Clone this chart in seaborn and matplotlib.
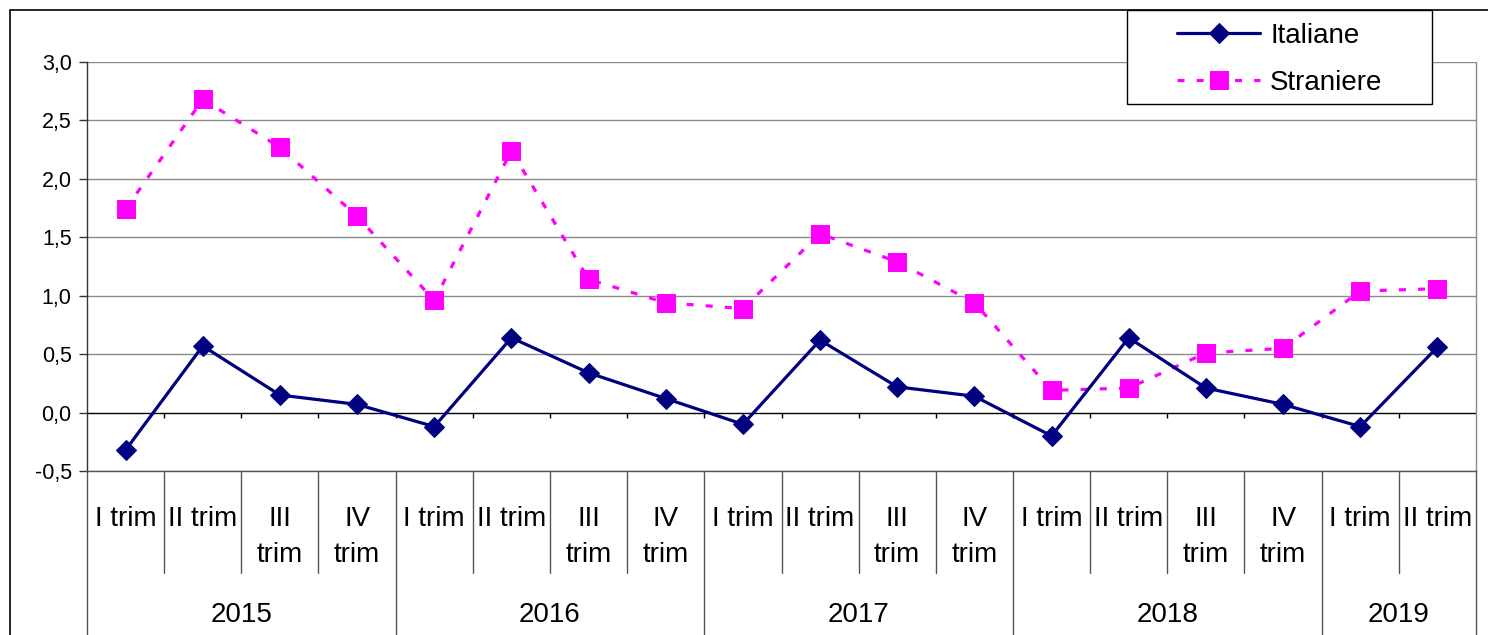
import numpy as np
import pandas as pd
import matplotlib
matplotlib.use("Agg")
import matplotlib.pyplot as plt
import matplotlib.transforms as mtransforms
from matplotlib.patches import Rectangle
import seaborn as sns

# =======================================
# Data
# =======================================
YEARS = ["2015", "2016", "2017", "2018", "2019"]
QUARTERS_PER_YEAR = [4, 4, 4, 4, 2]
QUARTER_LABELS = ["I trim", "II trim", "III\ntrim", "IV\ntrim"]

ITALIANE = [-0.32, 0.57, 0.15, 0.07,
            -0.12, 0.64, 0.34, 0.12,
            -0.10, 0.62, 0.22, 0.14,
            -0.20, 0.64, 0.21, 0.07,
            -0.12, 0.56]
STRANIERE = [1.74, 2.68, 2.27, 1.68,
             0.96, 2.24, 1.14, 0.94,
             0.89, 1.53, 1.29, 0.94,
             0.19, 0.21, 0.51, 0.55,
             1.04, 1.06]

Y_TICKS = [-0.5, 0.0, 0.5, 1.0, 1.5, 2.0, 2.5, 3.0]

NAVY = "#000080"
MAGENTA = "#FF00FF"

# =======================================
# Build table
# =======================================
labels = []
for yr, n in zip(YEARS, QUARTERS_PER_YEAR):
    for q in range(n):
        labels.append(QUARTER_LABELS[q])
pos = np.arange(len(labels))
df = pd.DataFrame({"pos": pos, "Italiane": ITALIANE, "Straniere": STRANIERE})

# =======================================
# Figure
# =======================================
sns.set_style("white")
plt.rcParams["font.family"] = ["Liberation Sans", "DejaVu Sans"]
plt.rcParams["text.color"] = "black"
plt.rcParams["xtick.color"] = "black"
plt.rcParams["ytick.color"] = "black"

W, H = 1488, 635
fig = plt.figure(figsize=(W / 100, H / 100), dpi=100)
ax = fig.add_axes([87 / W, 1 - 471 / H, (1476 - 87) / W, (471 - 62) / H])

# gridlines
for v in Y_TICKS:
    ax.axhline(v, color="black" if v == 0 else "#8a8a8a", lw=1.0, zorder=1)

sns.lineplot(data=df, x="pos", y="Italiane", ax=ax, color=NAVY, lw=2.3,
             marker="D", markersize=10.5, markeredgecolor=NAVY, zorder=4)
sns.lineplot(data=df, x="pos", y="Straniere", ax=ax, color=MAGENTA, lw=2.3,
             marker="s", markersize=13, markeredgecolor=MAGENTA, zorder=3)
line_it, line_st = ax.lines[-2], ax.lines[-1]
line_st.set_linestyle((0, (2.2, 3.8)))

ax.set_xlim(-0.5, len(labels) - 0.5)
ax.set_ylim(-0.5, 3.0)
ax.set_xlabel("")
ax.set_ylabel("")

ax.set_yticks(Y_TICKS)
ax.set_yticklabels([f"{v:.1f}".replace(".", ",") for v in Y_TICKS])
ax.tick_params(axis="y", left=True, length=6, width=1, color="#333333",
               pad=5, labelsize=15.5)

ax.set_xticks(pos)
ax.set_xticklabels(labels, linespacing=1.5)
ax.tick_params(axis="x", bottom=False, length=0, pad=25, labelsize=20)

ax.spines["top"].set_visible(False)
ax.spines["left"].set_color("#333333")
ax.spines["right"].set_color("#8a8a8a")
ax.spines["bottom"].set_color("#555555")
for s in ["left", "right", "bottom"]:
    ax.spines[s].set_linewidth(1.0)

# small tick marks on the zero line at quarter boundaries
bounds = pos[:-1] + 0.5
ax.vlines(bounds, -0.05, 0, color="black", lw=1.0, zorder=2)

# category separators below the axis
trans = mtransforms.blended_transform_factory(ax.transData, ax.transAxes)
year_edges = np.concatenate([[0], np.cumsum(QUARTERS_PER_YEAR)]) - 0.5
for b in bounds:
    if b in year_edges:
        continue
    ax.plot([b, b], [0, -(573 - 471) / 409], color="#555555", lw=1.0,
            transform=trans, clip_on=False)
for b in year_edges:
    ax.plot([b, b], [0, -0.45], color="#555555", lw=1.0,
            transform=trans, clip_on=False)

# year labels
for yr, lo, hi in zip(YEARS, year_edges[:-1], year_edges[1:]):
    ax.text((lo + hi) / 2, -(615 - 471) / 409, yr, transform=trans,
            ha="center", va="center", fontsize=20)

# legend box, then legend on top of it
fig.patches.append(Rectangle((1127 / W, 1 - 104 / H), (1432 - 1127) / W,
                             (104 - 10) / H, transform=fig.transFigure,
                             fill=True, facecolor="white", edgecolor="black",
                             lw=1.0, zorder=1))
leg = fig.legend([line_it, line_st], ["Italiane", "Straniere"],
                 loc="upper left", bbox_to_anchor=(1177 / W, 1 - 23 / H),
                 frameon=False, fontsize=20,
                 handlelength=3.0, handletextpad=0.35, labelspacing=0.75,
                 borderpad=0, borderaxespad=0, numpoints=1)
leg.set_zorder(5)

# outer chart frame
fig.patches.append(Rectangle((10 / W, -0.2), 2.0, 1.2 - 10 / H,
                             transform=fig.transFigure, fill=False,
                             edgecolor="black", lw=1.2, zorder=-1))

fig.savefig("out.png", dpi=100)
